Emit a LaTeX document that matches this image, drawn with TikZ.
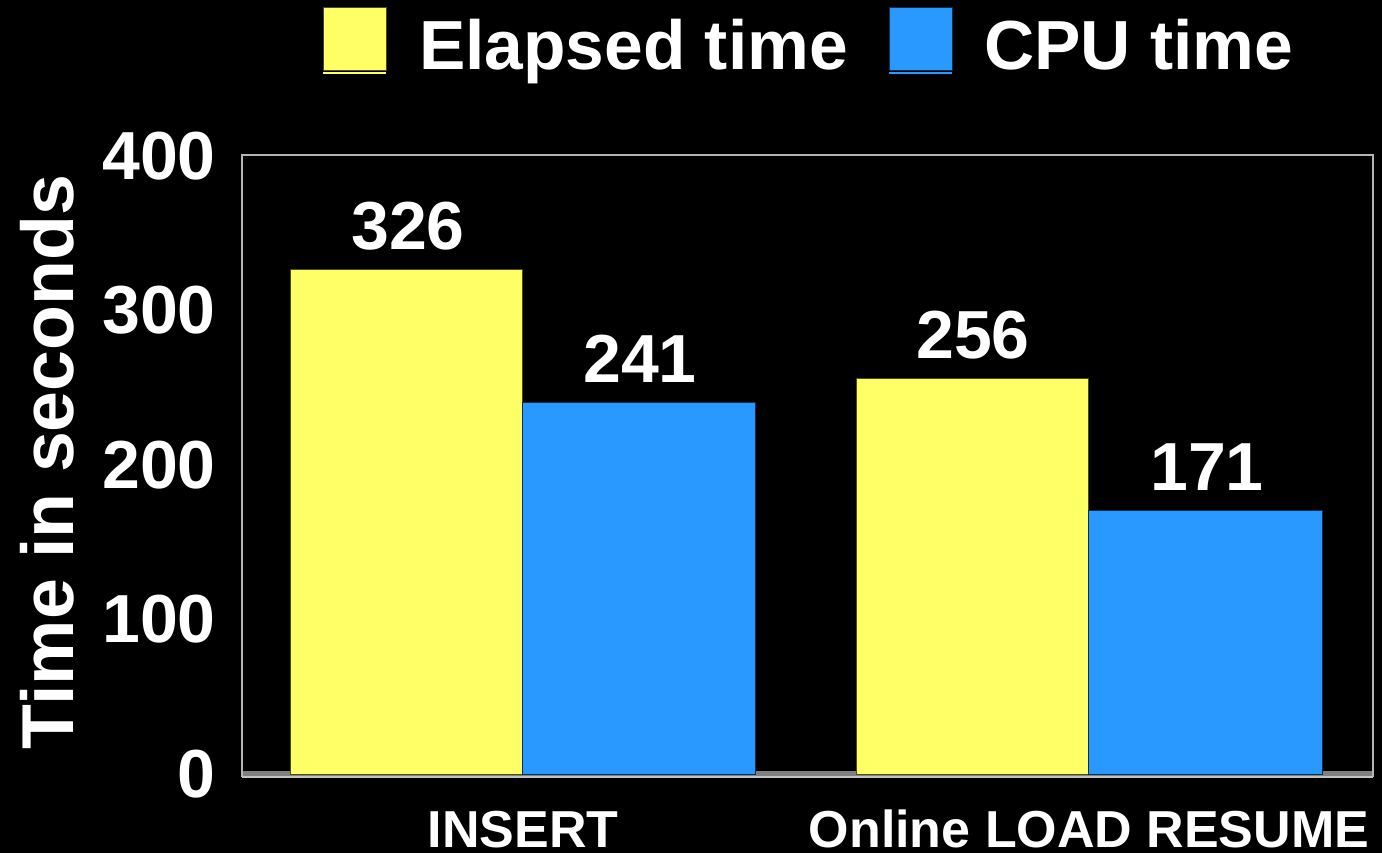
\documentclass[tikz,border=0pt]{standalone}
\usepackage{fontspec}
\setmainfont{Liberation Sans}
\definecolor{baryellow}{HTML}{FFFF66}
\definecolor{barblue}{HTML}{2A99FF}
\definecolor{framegray}{HTML}{B4B4B4}
\definecolor{floorgray}{HTML}{808080}
\begin{document}
\begin{tikzpicture}[x=1pt,y=-1pt,
  txt/.style={text=white,inner sep=0pt,font=\fontsize{68}{80}\selectfont\bfseries},
  legtxt/.style={text=white,inner sep=0pt,font=\fontsize{69.5}{80}\selectfont\bfseries},
  cattxt/.style={text=white,inner sep=0pt,font=\fontsize{52}{60}\selectfont\bfseries},
  ybar/.style={fill=baryellow,draw=black!70!baryellow,line width=1pt},
  bbar/.style={fill=barblue,draw=black!70!barblue,line width=1pt},
  frameline/.style={draw=framegray,line width=2pt}]
% background and page size
\fill[black] (0,0) rectangle (1382,853);
\useasboundingbox (0,0) rectangle (1382,853);

% legend
\draw[ybar] (323,8) rectangle (386,71);
\fill[baryellow] (323,72) rectangle (386,74.5);
\node[legtxt,anchor=base west] (lgE) at (419,70) {Elapsed time};
\draw[bbar] (889,8) rectangle (952,71);
\fill[barblue] (889,72) rectangle (952,74.5);
\node[legtxt,anchor=base west] (lgC) at (984,70) {CPU time};

% plot frame and floor
\fill[floorgray] (243,771) rectangle (1372,776);
\draw[frameline] (242,777) -- (242,155) -- (1373,155) -- (1373,777);
\draw[draw=framegray!80,line width=1.5pt] (242,777) -- (1373,777);

% y-axis tick labels (zero at 774, 1.546 px per second)
\foreach \v in {0,100,200,300,400}{
  \node[txt,anchor=east] (tick\v) at (216,{774-1.546*\v}) {\v};
}
\node[txt,rotate=90,anchor=base,font=\fontsize{73.5}{80}\selectfont\bfseries] (ytitle) at (73,462) {Time in seconds};

% bars
\draw[ybar] (290,774) rectangle (522,270);
\draw[bbar] (522,774) rectangle (755,402);
\draw[ybar] (856,774) rectangle (1088,378);
\draw[bbar] (1088,774) rectangle (1322,510);

% value labels
\node[txt,anchor=base] (v1) at (408,250) {326};
\node[txt,anchor=base] (v2) at (640,382) {241};
\node[txt,anchor=base] (v3) at (973,358) {256};
\node[txt,anchor=base] (v4) at (1207,490) {171};

% category labels
\node[cattxt,anchor=base] (c1) at (523,847) {INSERT};
\node[cattxt,anchor=base] (c2) at (1089,847) {Online LOAD RESUME};
\end{tikzpicture}
\end{document}
